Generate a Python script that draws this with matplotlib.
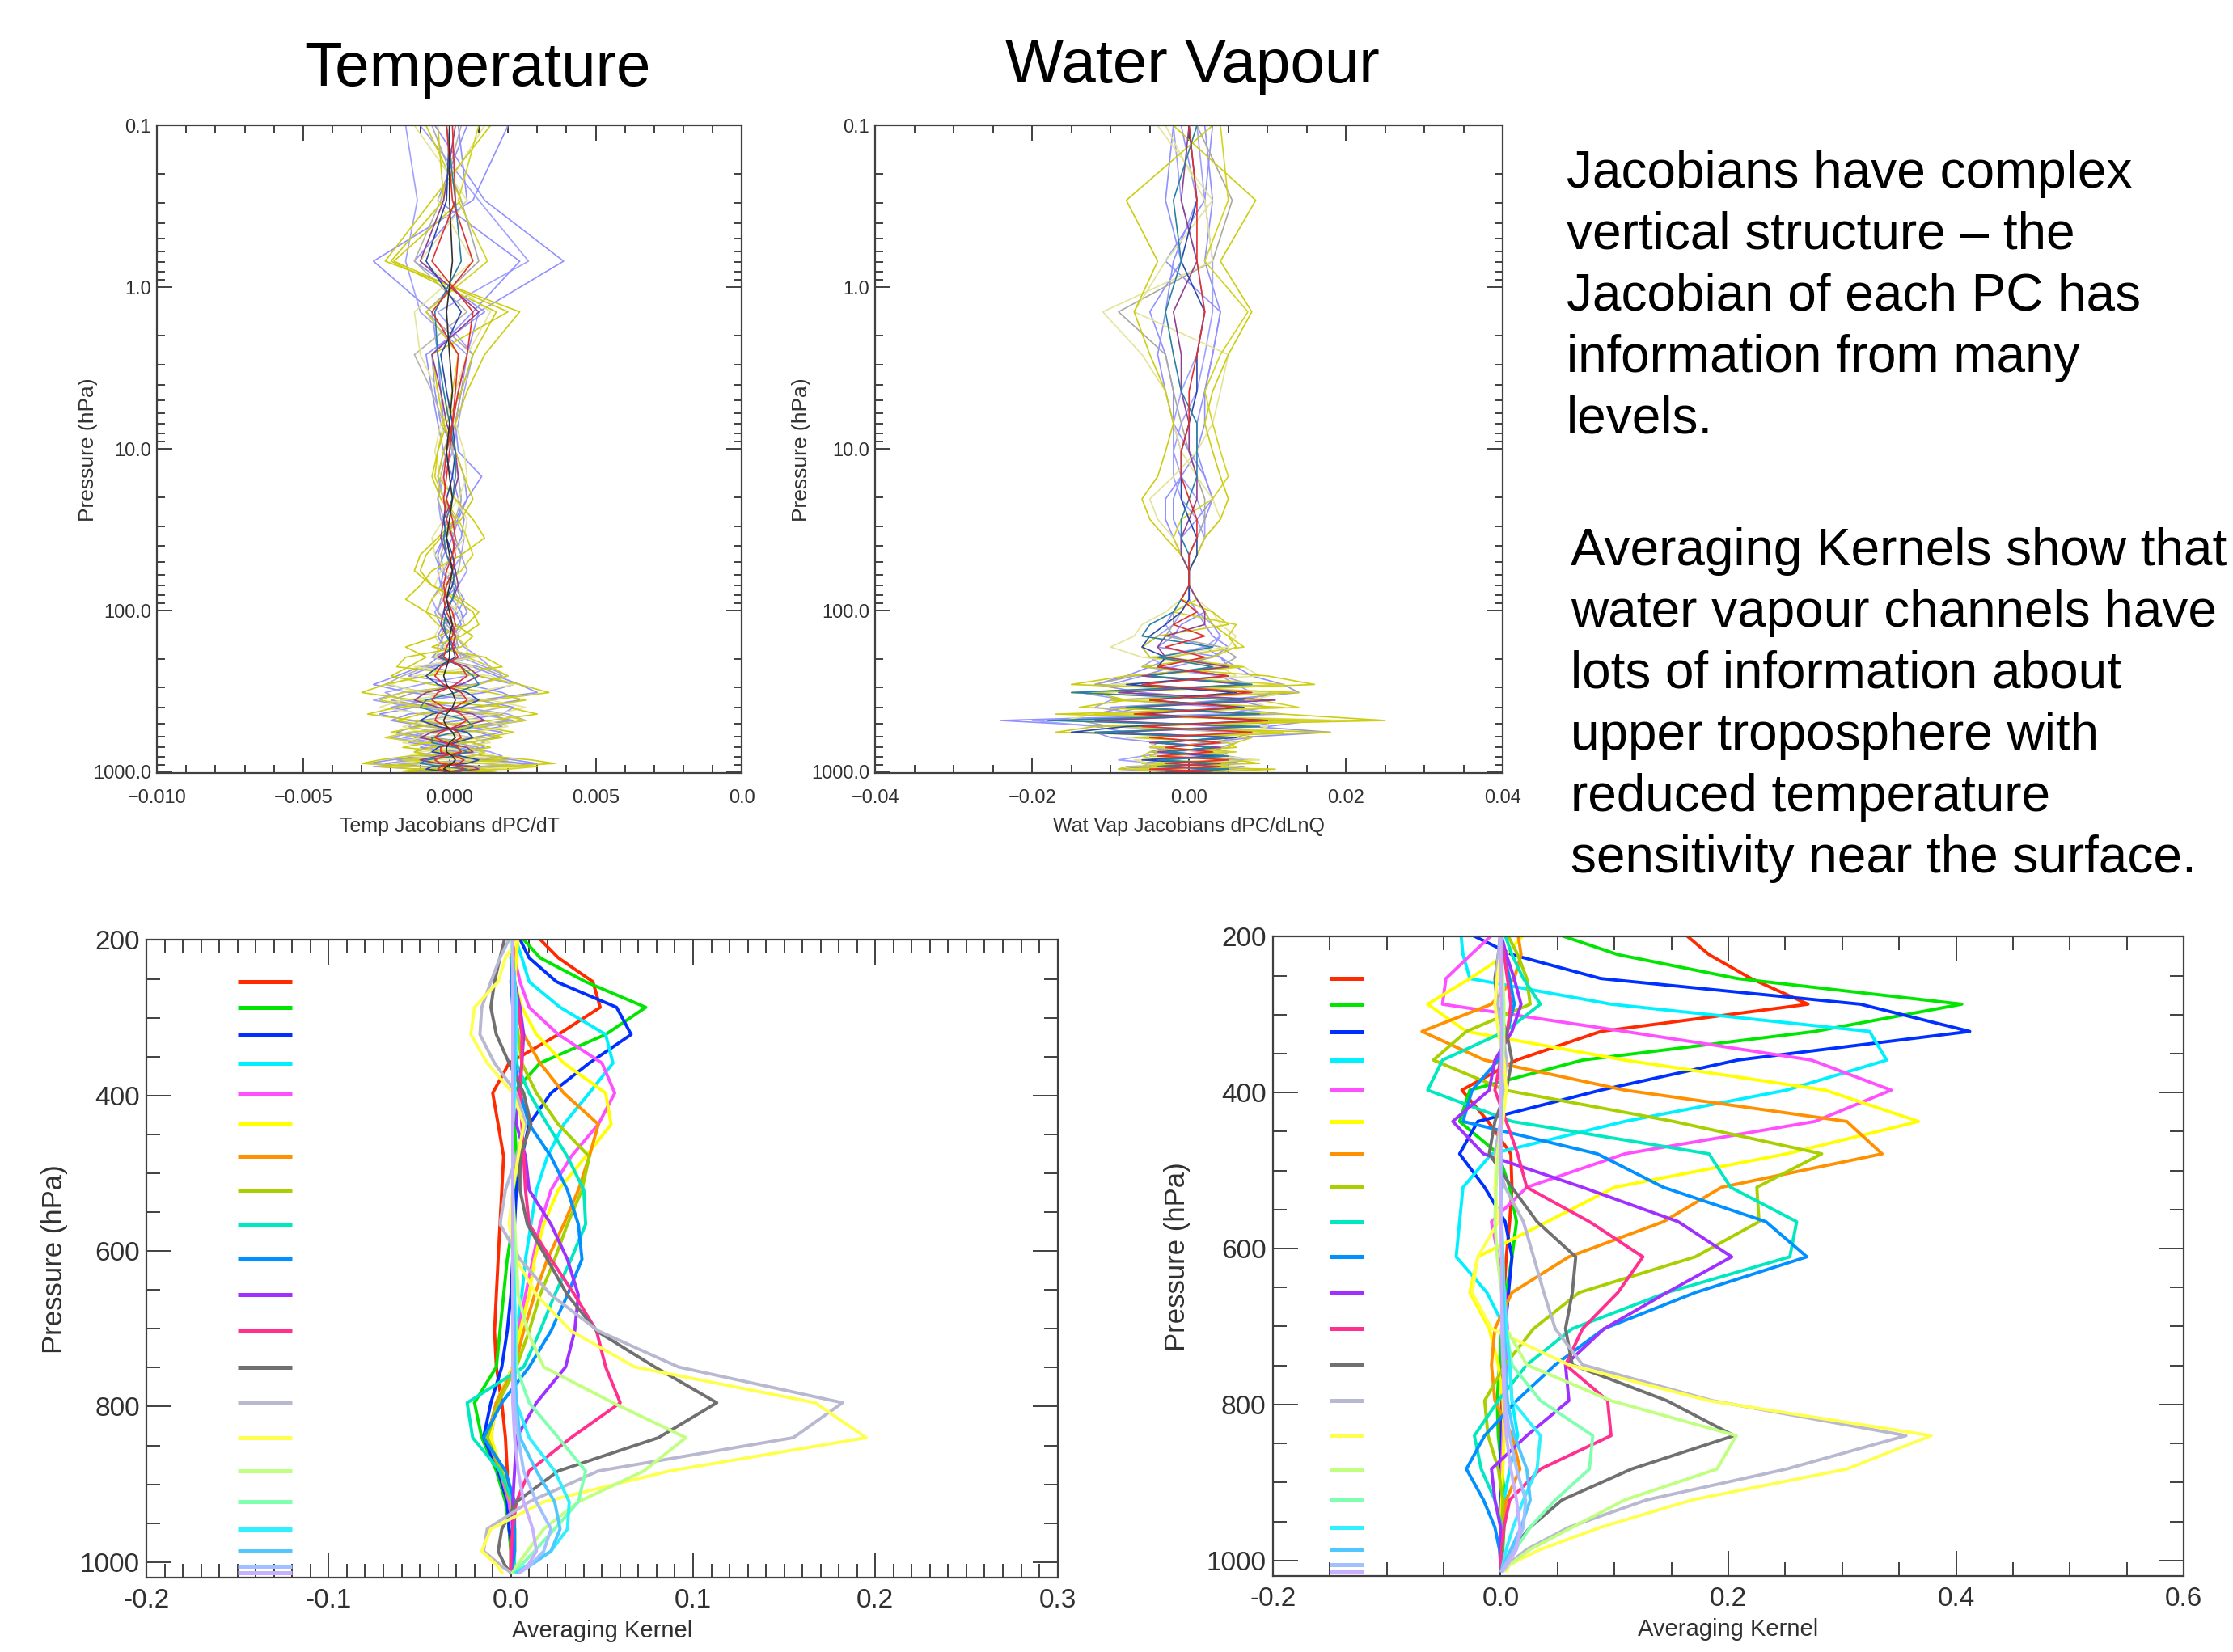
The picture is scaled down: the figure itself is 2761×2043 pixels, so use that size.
import numpy as np
import matplotlib
matplotlib.use('Agg')
import matplotlib.pyplot as plt
from matplotlib.ticker import FixedLocator, MultipleLocator, LogLocator, FixedFormatter, NullFormatter

plt.rcParams['font.family'] = ['Liberation Sans', 'DejaVu Sans']

# 43 pressure levels (hPa)
levels = [0.1, 0.29, 0.69, 1.42, 2.611, 4.407, 6.95, 10.37, 14.81, 20.40, 27.26,
          35.51, 45.29, 56.73, 69.97, 85.18, 102.05, 122.04, 143.84, 167.95,
          194.36, 222.94, 253.71, 286.60, 321.50, 358.28, 396.81, 436.95, 478.54,
          521.46, 565.54, 610.60, 656.43, 702.73, 749.12, 795.09, 839.95, 882.80,
          922.46, 957.44, 985.88, 1005.43, 1013.25]
ak_levels = levels[20:]

# temperature jacobians, units of 1e-4 (upper 20 levels + lower 23 levels)
temp_jac = [
    ('#9090ff', [-5, 12, 39, 10, 6, 4, 2, 3, 11, 6, 2, -2, -4, -3, 2, 5, 3, -2, -4, -2],
                [-6, 8, 16, 24, 30, 10, -12, -24, -14, 6, 18, 8, -6, -10, 4, 12, 22, 30, 10, -8, -14, -6, -2]),
    ('#9090ff', [20, 8, -26, -6, -4, -3, -2, 1, 3, 4, 3, 1, -2, -4, -3, 1, 4, 5, 2, -1],
                [6, -10, -18, -26, -14, 10, 22, 18, 4, -12, -18, -6, 8, 12, 2, -10, -20, -28, -12, 6, 14, 4, 1]),
    ('#a0a0ff', [-10, 10, 27, -4, 8, 5, 3, 1, -2, -4, -3, 1, 4, 6, 3, -2, -5, -3, 2, 5],
                [10, 14, 6, -10, -22, -16, 4, 20, 26, 12, -8, -16, -4, 8, 10, -6, -16, 12, 24, 10, -6, -4, 0]),
    ('#9090ff', [6, -4, 24, 8, -6, -5, -3, 2, 5, 6, 3, -2, -5, -3, 2, 4, 6, 3, -2, -4],
                [-4, -8, 10, 22, 12, -8, -20, -10, 12, 18, 6, -10, -14, 2, 12, 8, -12, -22, -8, 10, 8, 2, 0]),
    ('#a0a0ff', [-15, -11, -15, -10, 6, 3, 1, -2, -4, -2, 2, 5, 4, 1, -3, -6, -4, 1, 3, 2],
                [4, 12, 20, 8, -16, -26, -12, 10, 22, 8, -12, -20, -8, 6, 14, 18, 8, -14, -26, -10, 6, 4, 2]),
    ('#9090ff', [3, 6, -12, 12, -8, -6, -4, -2, 1, 3, 5, 4, 1, -2, -3, -1, 2, 4, 1, -3],
                [8, -6, -14, 6, 18, 24, 8, -14, -20, -8, 10, 16, 6, -8, -12, -4, 14, 26, 14, -6, -10, -4, 0]),
    ('#b4b4a8', [4, -3, -12, 6, -12, -6, -2, 1, 3, 4, 2, -1, -3, -2, 1, 3, 2, -1, -3, -2],
                [6, -8, -16, -22, -8, 12, 18, 6, -10, -14, -4, 8, 12, 4, -6, -10, 10, 22, 12, -4, -8, -2, 0]),
    ('#a8a8a8', [-6, 4, 10, -8, 8, 4, 2, -1, -3, -4, -2, 2, 4, 3, -1, -3, -4, -1, 2, 3],
                [-6, 10, 18, 10, -12, -20, -6, 14, 20, 6, -8, -12, 2, 10, 6, -8, -18, -6, 12, 16, 4, -2, 0]),
    ('#e4e498', [12, -4, 8, -12, -10, -4, 2, 5, 6, 3, -2, -6, -5, -1, 3, 4, 1, -3, -5, -3],
                [-5, 8, -12, -20, -10, 14, 26, 16, -6, -16, -10, 8, 14, 4, -10, -14, 6, 20, 28, 8, -8, -4, 0]),
    ('#e4e498', [-12, 6, -10, 14, 6, 2, -3, -5, -3, 2, 6, 5, 1, -3, -5, -2, 3, 5, 2, -2],
                [9, -12, 14, 22, 8, -16, -24, -8, 12, 20, 8, -10, -16, -6, 10, 16, -6, -20, -14, 6, 12, 4, 0]),
    ('#cccc10', [14, -6, -22, 24, 12, 6, 2, -2, -4, 2, 8, 12, 4, -6, -10, -15, -8, 2, 8, 4],
                [-15, -18, 10, 24, 34, 14, -18, -28, -12, 10, 22, 12, -8, -16, 0, 14, 28, 36, 18, -10, -16, -6, -2]),
    ('#cccc10', [-8, 4, -19, 20, -6, -4, -2, 2, 5, 8, 4, -3, -8, -10, -6, 2, 8, 10, 4, -6],
                [12, 18, -8, -22, -30, -12, 20, 30, 14, -10, -20, -10, 8, 14, 4, -14, -24, -30, -10, 12, 16, 6, 1]),
    ('#d2d220', [10, 3, 13, -8, 3, 1, -2, -4, -5, -2, 3, 6, 8, 4, -2, -6, -8, -4, 2, 6],
                [6, 14, 20, 10, -16, -24, -8, 16, 26, 10, -14, -22, -10, 6, 12, 8, -16, 10, 30, 20, -6, -8, -2]),
    ('#cccc10', [-4, -2, -20, 16, 8, 4, -1, -4, -6, -3, 2, -4, -10, -12, -6, 4, 10, 6, -4, -15],
                [-8, -14, -20, -6, 14, 26, 10, -10, -18, -6, 12, 18, 6, -6, -12, -4, 20, -8, -24, -12, 10, 6, 0]),
    ('#904090', [2, -2, -10, 10, -6, -3, -1, 2, 3, 1, -2, -3, -1, 2, 3, 1, -2, -3, -1, 2],
                [-4, 6, 10, 4, -8, -12, -4, 8, 12, 4, -6, -10, -2, 6, 8, -4, -10, -4, 8, 10, 2, -2, 0]),
    ('#2a48a8', [0, -1, -8, 4, -3, -1, 1, 2, 1, -1, -2, -1, 1, 2, 1, -1, -2, 0, 2, 1],
                [2, -4, -8, -4, 6, 10, 4, -6, -10, -4, 6, 8, 2, -4, -6, 4, 10, 6, -6, -8, -2, 1, 0]),
    ('#2a80a0', [-1, 2, 4, -5, -4, -2, 0, 2, 2, 1, -1, -2, -1, 1, 2, 1, -1, -2, -1, 1],
                [-3, 4, 8, 10, 2, -8, -10, -2, 6, 8, 2, -6, -6, 2, 6, 2, -8, -10, -2, 6, 4, 0, 0]),
    ('#e03030', [1, 2, -6, 8, 6, 3, 1, -1, -2, -1, 1, 2, 1, -1, -2, -1, 1, 2, 1, -1],
                [-2, 4, 6, 2, -4, -6, -2, 4, 6, 2, -3, -5, -1, 3, 4, -2, -5, -3, 4, 5, 1, -1, 0]),
    ('#e03030', [-1, 1, 8, -6, 3, 2, 1, 0, -1, -2, -1, 1, 2, 1, -1, -2, -1, 1, 2, 1],
                [3, -3, -5, -2, 4, 6, 2, -4, -5, -1, 3, 4, 1, -3, -3, 2, 5, 3, -3, -4, -1, 0, 0]),
    ('#303030', [0, 0, 1, -1, 0, 1, 0, -1, 0, 1, 0, -1, 0, 1, 0, -1, 0, 1, 0, 0],
                [0, -1, -2, -1, 1, 2, 1, -1, -2, -1, 1, 2, 0, -1, -1, 1, 2, 1, -1, -2, 0, 0, 0]),
]

# water vapour jacobians, units of 1e-3
wv_jac = [
    ('#9090ff', [2, 3, 2, 4, 3, 2, 1, 1, 2, 3, 2, 1, 0, 0, 0, 1, 2, 3, 4, 3, -2, -5, -8, -12, -6, 6, 10, 4, -24, -10, 6, 8, 2, -3, -5, 2, 6, 4, -4, -7, -3, -1, 0]),
    ('#9090ff', [-2, -3, -1, -5, -3, -2, -2, -1, -1, -2, -2, -1, -1, 0, 0, -1, -2, -3, -2, 2, 4, 6, 8, 12, 14, 4, -6, -10, 12, 8, 18, 6, -4, -5, 2, 5, 8, 3, -5, -9, -4, -2, 0]),
    ('#a0a0ff', [1, 2, 3, 3, 2, 1, -1, -2, -2, -1, 1, 2, 1, 0, 0, 0, -1, -2, -4, -6, -5, -3, 4, 8, -14, -8, 4, 12, -20, -12, -8, 4, 6, 4, -2, -6, -9, -4, 3, 8, 4, 1, 0]),
    ('#9090ff', [-1, 1, -2, -3, -4, -3, -2, 0, 2, 3, 1, -1, -1, 0, 0, 0, 1, 2, 3, 5, 3, -2, -6, -10, 10, 9, -8, -12, 16, 10, -12, -10, -4, 3, 5, 4, -3, -6, 7, 4, -2, -1, 0]),
    ('#a0a0ff', [-2, -1, 1, 2, 1, -1, -2, -2, -1, 1, 2, 2, 1, 0, 0, 0, 1, 3, 4, 2, -4, -6, 4, 6, 8, -10, -12, -6, 13, -8, 10, -6, 5, -3, -4, 3, 5, -5, -6, 4, 3, -1, 0]),
    ('#9090ff', [3, 2, -3, 4, 3, 2, 2, 1, -1, -3, -3, -2, -1, 0, 0, 1, 2, -1, -2, -4, 4, 5, -6, 8, -9, 6, -10, 8, -12, 5, -10, 4, -3, 4, 3, -3, 7, 5, -6, 6, -2, -1, 0]),
    ('#a8a8a0', [1, 5.5, 3, -9, -3, -2, -1, 0, 1, 2, 2, 1, 0, 0, 0, -1, -2, -2, -3, 4, 6, 4, -7, -12, 11, 7, -9, 10, -14, -10, 8, 6, -5, -4, 3, 4, -5, 6, 3, -5, -3, -1, 0]),
    ('#e4e498', [-3, 2, 3, -11, -6, -3, -2, -1, 1, 3, 4, 2, 1, 0, 0, -1, -3, -6, -7, -10, -6, 4, 6, -8, 12, 8, 10, -12, -16, 10, 8, 7, -5, -4, 4, 5, -7, -5, 6, 8, 3, 1, 0]),
    ('#e4e498', [-4, 3, -3, -7, 5, 4, 3, 1, -2, -5, -4, -2, -1, 0, 0, 1, 3, 4, 6, 5, -5, 7, 9, -10, 10, -7, 11, -9, 20, -10, 9, -8, 6, 5, -3, 4, 9, -6, 5, -8, 4, 2, 0]),
    ('#cccc10', [3, -8, -4, -7, -5, -3, -2, -3, -4, -6, -5, -3, -1, 0, 0, 1, 2, 3, 5, 6, 3, -6, 10, 16, -12, -8, -14, 12, 25, -10, 18, -6, 5, 6, -4, -5, 6, 9, -8, -9, 4, 2, 0]),
    ('#cccc10', [-2, 8.5, 4, 8, 5, 3, 2, 3, 4, 5, 4, 2, 1, 0, 0, -1, 3, 5, -4, -6, -5, 6, -8, -15, 14, -10, 12, -17, 14, -12, -17, 8, 6, 5, -5, -6, -4, 7, -8, 11, 5, 2, 0]),
    ('#d2d220', [4, 5, 2, 7.5, 4, 2, 3, 4, 5, 3, -1, -2, -1, 0, 0, 1, -2, 6, 5, 7, -3, 7, -6, 12, -15, 9, 14, -12, 18, -9, 12, -7, 4, -5, 6, -4, 5, -6, 5, -7, 4, -3, 0]),
    ('#904090', [0, -1, 1, -2, -1, -1, 0, 0, 1, 1, 0, -1, -1, 0, 0, 1, 2, 2, -3, -4, -3, 5, -6, 7, -9, 11, -7, 8, -12, 7, -9, 6, -5, 4, -4, 3, -5, 4, -3, 4, -3, 1, 0]),
    ('#2a48a8', [0, 1, -1, 2, 1, 1, 0, -1, -1, -1, 0, 1, 1, 0, 0, 0, -1, -3, -5, -6, -3, -4, 5, -8, 6, -5, 7, -6, 10, -8, -15, 6, -4, 3, -3, 4, -6, 3, -4, 5, -3, 2, 0]),
    ('#2a80a0', [1, -2, -1, -3, -2, -1, 1, 1, 1, 0, -1, -1, 0, 0, 0, -1, -2, -5, -6, 3, -4, 3, -5, 8, -15, 7, -8, 9, -18, 9, -12, 5, -4, 3, -3, 5, -4, 3, -4, 5, -3, 2, 0]),
    ('#e03030', [0, 1, 1, 2, 1, 0, 0, -1, -1, 0, 1, 1, 0, 0, 0, -1, 1, -2, 2, -3, 2, -4, 5, -6, 8, -5, 6, -7, 10, -6, 8, -5, 4, -3, 3, -4, 5, -3, 4, -5, 3, -2, 0]),
]

# averaging kernels on ak_levels, units of 0.01
ak_colors = ['#ff2a00', '#00e600', '#0030ff', '#00f0ff', '#ff50ff', '#ffff00', '#ff9000',
             '#a8d000', '#00e8c0', '#0090ff', '#a030ff', '#ff3090', '#707070', '#b8b8d0',
             '#ffff50', '#c0ff80', '#80ffb0', '#30f0ff', '#50c8ff', '#a0c0ff', '#c8b0ff']

ak_temp = [
    [1.4, 2.6, 4.5, 4.9, 2.6, -0.1, -1.0, -0.7, -0.4, -0.5, -0.6, -0.7, -0.8, -0.9, -0.8, -0.5, -0.3, -0.2, -0.2, -0.1, 0.0, 0.0, 0.0],
    [0.5, 1.6, 4.1, 7.4, 5.2, 1.6, 0.1, 0.2, 0.3, 0.2, 0.1, -0.2, -0.4, -0.6, -0.8, -2.0, -1.6, -0.8, -0.3, -0.1, 0.0, 0.0, 0.0],
    [0.4, 1.0, 2.5, 5.8, 6.6, 4.3, 2.2, 1.0, 0.6, 0.3, 0.2, 0.1, 0.0, -0.2, -0.5, -1.1, -1.5, -0.7, -0.2, -0.1, 0.1, 0.1, 0.1],
    [0.2, 0.6, 1.0, 2.7, 5.2, 5.6, 4.3, 2.9, 2.0, 1.4, 1.1, 0.8, 0.6, 0.3, 0.1, -0.8, -1.3, -0.6, -0.1, 0.1, 0.2, 0.2, 0.1],
    [0.1, 0.2, 0.5, 1.0, 2.6, 5.0, 5.7, 4.8, 3.3, 2.2, 1.6, 1.2, 0.8, 0.4, 0.1, -0.8, -1.1, -0.6, -0.1, 0.1, 0.2, 0.1, 0.1],
    [0.4, 0.3, 0.2, 0.6, 1.4, 2.9, 5.2, 5.5, 4.1, 2.6, 1.8, 1.3, 1.0, 0.5, 0.1, -0.8, -1.1, -0.5, 0.0, 0.2, 0.2, 0.1, 0.1],
    [0.2, 0.1, 0.0, 0.2, 0.7, 1.6, 2.9, 4.8, 4.3, 3.7, 2.9, 2.0, 1.3, 0.7, 0.2, -0.8, -1.3, -0.6, 0.0, 0.2, 0.2, 0.1, 0.1],
    [0.1, 0.0, 0.1, 0.2, 0.4, 0.6, 1.4, 2.6, 4.3, 3.9, 3.1, 2.4, 1.6, 1.0, 0.3, -0.7, -1.3, -0.5, 0.0, 0.2, 0.2, 0.1, 0.1],
    [0.1, 0.0, 0.1, 0.1, 0.2, 0.3, 1.0, 2.0, 3.1, 4.0, 4.1, 3.3, 2.4, 1.6, 0.7, -2.4, -2.1, -0.6, 0.1, 0.2, 0.2, 0.1, 0.1],
    [0.0, 0.1, 0.0, 0.1, 0.2, 0.2, 0.5, 1.0, 2.2, 3.1, 3.7, 3.9, 3.1, 2.2, 1.0, -0.5, -1.5, -0.3, 0.2, 0.2, 0.2, 0.1, 0.1],
    [0.0, 0.1, 0.2, 0.5, 0.7, 0.6, 0.4, 0.3, 0.8, 1.0, 2.2, 3.1, 3.7, 3.5, 3.0, 1.4, 0.3, 0.2, 0.1, 0.1, 0.1, 0.0, 0.0],
    [0.0, 0.1, 0.2, 0.4, 0.6, 0.6, 0.5, 0.6, 0.7, 0.8, 1.0, 2.2, 3.5, 4.7, 5.2, 6.0, 3.3, 1.0, 0.3, 0.1, 0.0, 0.0, 0.0],
    [-0.3, -0.6, -0.9, -1.1, -0.8, -0.1, 0.7, 1.1, 0.5, 0.5, 0.9, 2.0, 3.1, 4.7, 7.9, 11.3, 8.1, 2.6, 0.3, -0.5, -0.7, -0.3, 0.0],
    [0.0, -0.6, -1.1, -1.6, -1.7, -0.9, 0.3, 0.8, 0.3, -0.3, -0.6, 0.5, 2.2, 4.8, 9.2, 18.2, 15.5, 4.8, 1.0, -1.3, -1.5, -0.5, 0.0],
    [0.5, -0.3, -0.7, -2.0, -2.2, -1.3, 0.1, 0.7, 0.4, 0.1, -0.1, 0.3, 1.4, 3.3, 6.8, 16.7, 19.5, 8.7, 1.8, -1.1, -1.6, -0.7, -0.5],
    [0.0, 0.1, 0.2, 0.3, 0.3, 0.2, 0.2, 0.1, 0.1, 0.1, 0.2, 0.3, 0.4, 0.9, 1.8, 5.6, 9.6, 7.3, 3.7, 1.8, 0.9, 0.3, 0.1],
    [0.0, 0.1, 0.1, 0.2, 0.2, 0.2, 0.1, 0.1, 0.1, 0.1, 0.1, 0.2, 0.2, 0.3, 0.3, 1.0, 2.6, 4.1, 3.7, 2.4, 1.3, 0.5, 0.2],
    [0.1, 0.1, 0.2, 0.3, 0.3, 0.2, 0.2, 0.1, 0.1, 0.1, 0.1, 0.1, 0.2, 0.2, 0.2, 0.3, 1.0, 2.4, 3.2, 3.1, 2.2, 0.8, 0.3],
    [0.1, 0.1, 0.2, 0.2, 0.2, 0.2, 0.1, 0.1, 0.1, 0.1, 0.1, 0.1, 0.1, 0.2, 0.2, 0.3, 0.5, 1.4, 2.4, 2.7, 2.2, 1.0, 0.4],
    [0.1, 0.1, 0.1, 0.1, 0.1, 0.1, 0.1, 0.1, 0.1, 0.1, 0.1, 0.1, 0.1, 0.1, 0.1, 0.2, 0.4, 0.7, 1.4, 2.2, 1.8, 1.0, 0.5],
    [0.1, 0.1, 0.1, 0.1, 0.1, 0.1, 0.1, 0.1, 0.1, 0.1, 0.1, 0.1, 0.1, 0.1, 0.1, 0.1, 0.2, 0.4, 0.7, 1.2, 1.4, 0.9, 0.5],
]

ak_wv = [
    [16.0, 18.3, 22.0, 27.0, 8.8, 1.4, -3.4, -1.1, 0.9, 1.0, 0.8, 0.5, 0.3, 0.2, 0.1, 0.1, 0.0, 0.0, 0.0, 0.0, 0.0, 0.0, 0.0],
    [4.5, 10.3, 20.8, 40.5, 27.6, 7.2, -2.7, -3.6, -0.2, 0.8, 1.4, 1.0, 0.5, 0.1, -0.1, -0.3, -0.2, 0.1, 0.4, 0.3, 0.2, 0.1, 0.0],
    [-3.0, 1.0, 8.8, 31.6, 41.2, 20.8, 8.8, -2.0, -3.6, -1.4, 0.4, 1.0, 0.7, 0.4, 0.3, 0.2, 0.1, 0.0, 0.0, 0.0, 0.0, 0.0, 0.0],
    [-3.5, -3.3, -2.7, 9.7, 32.4, 33.9, 25.1, 10.9, -0.8, -3.3, -3.6, -3.9, -1.2, 0.4, 0.8, 1.0, 1.5, 0.8, 0.3, 0.1, 0.0, 0.0, 0.0],
    [-0.5, -2.6, -4.8, -5.1, 10.9, 27.3, 34.3, 27.6, 10.9, 2.3, -0.8, -0.2, 0.4, 0.6, 0.5, 0.3, 0.2, 0.1, 0.1, 0.0, 0.0, 0.0, 0.0],
    [2.2, 0.5, -2.7, -6.4, -3.0, 10.9, 28.5, 36.7, 25.1, 10.0, 4.1, -2.0, -2.7, -1.0, -0.2, 0.2, 0.3, 0.2, 0.1, 0.0, 0.0, 0.0, 0.0],
    [1.5, 1.8, 1.2, -0.8, -6.9, -1.4, 10.9, 30.4, 33.5, 19.4, 14.3, 6.0, 1.0, -0.5, -0.8, -0.5, 1.0, 1.7, 0.5, 0.1, 0.0, 0.0, 0.0],
    [0.5, 1.5, 2.3, 2.6, -3.0, -5.9, 0.4, 15.2, 28.2, 22.5, 22.7, 17.1, 6.9, 2.9, 0.4, -1.4, -1.1, -0.2, 0.2, 0.1, 0.0, 0.0, 0.0],
    [0.3, 1.0, 2.0, 3.5, 0.4, -5.1, -6.4, 1.0, 18.3, 20.2, 26.0, 25.4, 14.6, 6.3, 2.3, -0.2, -2.3, -1.7, -0.5, 0.1, 0.0, 0.0, 0.0],
    [0.0, 0.3, 0.8, 1.2, 0.6, -0.2, -2.5, -3.3, 8.5, 14.3, 23.3, 26.9, 17.1, 9.1, 4.8, 1.4, -1.4, -3.0, -1.5, -0.5, -0.1, 0.0, 0.0],
    [0.0, 0.5, 1.2, 1.8, 1.0, -0.5, -1.0, -4.2, -1.5, 7.2, 15.6, 20.3, 14.6, 9.1, 5.7, 6.0, 2.3, -0.8, -0.5, 0.0, 0.0, 0.0, 0.0],
    [0.0, 0.3, 0.6, 0.9, 0.6, 0.0, -0.5, 0.5, 1.5, 2.3, 7.8, 12.5, 10.3, 7.2, 5.7, 9.4, 9.7, 3.5, 0.8, 0.3, 0.1, 0.0, 0.0],
    [0.0, -0.2, -0.5, -0.3, 0.5, 1.0, 0.5, -0.5, -1.0, 1.0, 3.2, 6.6, 6.3, 5.7, 6.3, 14.6, 20.5, 11.5, 5.4, 2.6, 1.0, 0.3, 0.0],
    [0.0, -0.2, -0.4, -0.3, 0.2, 0.5, 0.3, 0.0, -0.5, 0.4, 2.0, 2.9, 3.8, 4.8, 7.2, 18.6, 35.6, 25.1, 12.8, 6.0, 2.3, 0.6, 0.1],
    [0.2, 0.0, -0.3, -0.5, -0.2, 0.3, 0.5, 0.2, -0.3, -0.5, -0.2, -2.0, -2.5, -0.8, 6.0, 18.3, 37.8, 30.4, 16.8, 8.8, 3.5, 0.8, 0.5],
    [0.0, 0.1, 0.2, 0.3, 0.3, 0.2, 0.1, 0.0, -0.2, -0.4, -0.5, -0.3, 0.1, 0.5, 2.3, 9.7, 20.7, 19.0, 10.9, 6.3, 2.6, 0.8, 0.3],
    [0.0, 0.1, 0.1, 0.2, 0.2, 0.1, 0.1, 0.0, 0.0, 0.1, 0.1, 0.2, 0.3, 0.5, 1.0, 3.5, 8.1, 7.8, 4.8, 2.6, 1.3, 0.4, 0.1],
    [0.0, 0.1, 0.1, 0.1, 0.1, 0.1, 0.0, 0.0, 0.0, 0.1, 0.1, 0.2, 0.3, 0.5, 0.8, 1.0, 3.5, 3.2, 2.0, 1.1, 0.5, 0.2, 0.1],
    [0.0, 0.1, 0.1, 0.1, 0.1, 0.1, 0.0, 0.0, 0.0, 0.1, 0.1, 0.1, 0.2, 0.3, 0.4, 0.6, 1.2, 2.3, 2.6, 1.8, 0.9, 0.3, 0.1],
    [0.0, 0.0, 0.1, 0.1, 0.1, 0.1, 0.0, 0.0, 0.0, 0.0, 0.1, 0.1, 0.1, 0.2, 0.3, 0.4, 0.8, 1.4, 2.2, 2.0, 1.2, 0.4, 0.1],
    [0.0, 0.0, 0.0, 0.1, 0.1, 0.1, 0.0, 0.0, 0.0, 0.0, 0.0, 0.1, 0.1, 0.1, 0.2, 0.3, 0.5, 0.9, 1.4, 1.7, 1.4, 0.6, 0.2],
]

text1 = ("Jacobians have complex\nvertical structure \u2013 the\nJacobian of each PC has\n"
         "information from many\nlevels.")
text2 = ("Averaging Kernels show that\nwater vapour channels have\nlots of information about\n"
         "upper troposphere with\nreduced temperature\nsensitivity near the surface.")

axcol = '#404040'
fig = plt.figure(figsize=(27.61, 20.43), dpi=100)


def style_box(ax):
    for s in ax.spines.values():
        s.set_color(axcol)
        s.set_linewidth(1.6)
    ax.tick_params(which='both', direction='in', top=True, right=True, colors=axcol,
                   labelcolor='#303030', width=1.4)


def jac_panel(rect, lines, scale, xlim, xmajor, xminor, xlabels, xlabel, ylab_x):
    ax = fig.add_axes(rect)
    for col, vals in lines:
        ax.plot(np.array(vals) * scale, levels, color=col, lw=1.2)
    ax.set_yscale('log')
    ax.set_ylim(1013.25, 0.1)
    ax.set_xlim(*xlim)
    style_box(ax)
    ax.yaxis.set_major_locator(FixedLocator([0.1, 1, 10, 100, 1000]))
    ax.yaxis.set_major_formatter(FixedFormatter(['0.1', '1.0', '10.0', '100.0', '1000.0']))
    ax.yaxis.set_minor_locator(LogLocator(base=10, subs=np.arange(2, 10)))
    ax.yaxis.set_minor_formatter(NullFormatter())
    ax.xaxis.set_major_locator(FixedLocator(xmajor))
    ax.xaxis.set_major_formatter(FixedFormatter(xlabels))
    ax.xaxis.set_minor_locator(MultipleLocator(xminor))
    ax.tick_params(which='major', length=14, labelsize=17)
    ax.tick_params(which='minor', length=7)
    ax.tick_params(axis='x', pad=14)
    ax.tick_params(axis='y', pad=5)
    ax.set_xlabel(xlabel, fontsize=18, color='#303030')
    ax.set_ylabel('Pressure (hPa)', fontsize=19, color='#303030')
    ax.xaxis.set_label_coords(0.5, -0.067)
    ax.yaxis.set_label_coords(ylab_x, 0.5)
    return ax


def ak_panel(rect, curves, xlim, xmajor, xminor, ylab_x):
    ax = fig.add_axes(rect)
    for col, vals in zip(ak_colors, curves):
        ax.plot(np.array(vals) * 0.01, ak_levels, color=col, lw=2.8)
    ax.hlines(ak_levels[2:], -0.15, -0.12, colors=ak_colors, lw=3.6)
    ax.set_ylim(1020, 200)
    ax.set_xlim(*xlim)
    style_box(ax)
    ax.xaxis.set_major_locator(MultipleLocator(xmajor))
    ax.xaxis.set_minor_locator(MultipleLocator(xminor))
    ax.xaxis.set_major_formatter(plt.FormatStrFormatter('%.1f'))
    ax.yaxis.set_major_locator(MultipleLocator(200))
    ax.yaxis.set_minor_locator(MultipleLocator(50))
    ax.tick_params(which='major', length=22, labelsize=24)
    ax.tick_params(which='minor', length=12)
    ax.tick_params(axis='x', pad=9)
    ax.tick_params(axis='y', pad=6)
    ax.set_xlabel('Averaging Kernel', fontsize=21, color='#303030')
    ax.set_ylabel('Pressure (hPa)', fontsize=25, color='#303030')
    ax.xaxis.set_label_coords(0.5, -0.066)
    ax.yaxis.set_label_coords(ylab_x, 0.5)
    return ax


# upper and lower parts of each temperature line are joined here
temp_lines = [(c, up + low) for c, up, low in temp_jac]

jac_panel([0.0703, 0.532, 0.262, 0.392], temp_lines, 1e-4, (-0.010, 0.010),
          [-0.010, -0.005, 0.0, 0.005, 0.010], 0.001,
          ['\u22120.010', '\u22120.005', '0.000', '0.005', '0.0'], 'Temp Jacobians dPC/dT', -0.101)
jac_panel([0.392, 0.532, 0.281, 0.392], wv_jac, 1e-3, (-0.04, 0.04),
          [-0.04, -0.02, 0.0, 0.02, 0.04], 0.005,
          ['\u22120.04', '\u22120.02', '0.00', '0.02', '0.04'], 'Wat Vap Jacobians dPC/dLnQ', -0.102)

ak_panel([0.0656, 0.045, 0.408, 0.386], ak_temp, (-0.2, 0.3), 0.1, 0.01, -0.086)
ak_panel([0.570, 0.046, 0.408, 0.387], ak_wv, (-0.2, 0.6), 0.2, 0.05, -0.090)

fig.text(0.2137, 0.9575, 'Temperature', ha='center', va='center', fontsize=55)
fig.text(0.534, 0.9595, 'Water Vapour', ha='center', va='center', fontsize=55)

fig.text(0.7015, 0.9095, text1, ha='left', va='top', fontsize=46, linespacing=1.34)
fig.text(0.7034, 0.681, text2, ha='left', va='top', fontsize=46, linespacing=1.34)

fig.savefig('out.png', dpi=100, facecolor='white')
